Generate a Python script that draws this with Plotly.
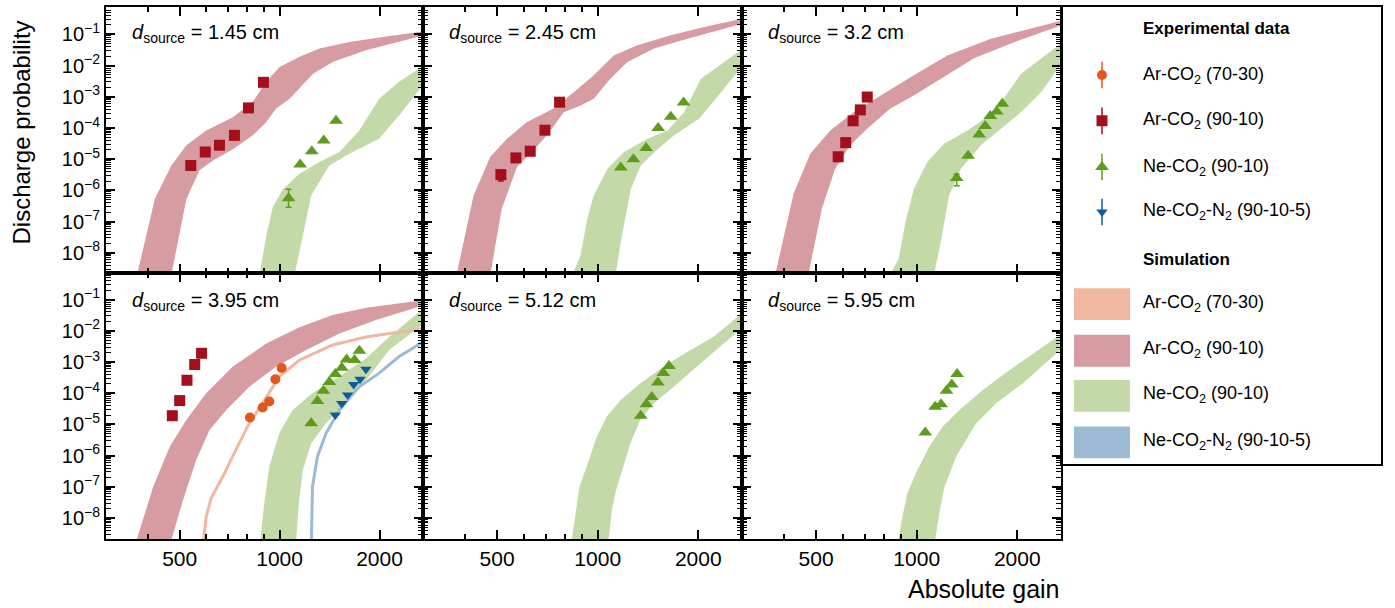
import plotly.graph_objects as go

# ---------------- data ----------------
panel_labels = ["1.45", "2.45", "3.2", "3.95", "5.12", "5.95"]

# Panel 1 : d = 1.45 cm
p1_ar90_a_gain = [372, 421, 472, 524, 601, 723, 830, 912, 1000, 1148, 1318, 1622, 2042, 2720]
p1_ar90_a_prob = [2e-9, 5.4e-7, 6.3e-6, 2.8e-5, 8.3e-5, 2.2e-4, 6.8e-4, 3.0e-3, 9.0e-3, 1.9e-2, 3.5e-2, 5.7e-2, 8.2e-2, 0.125]
p1_ar90_b_gain = [472, 524, 574, 630, 723, 830, 912, 976, 1072, 1261, 1445, 1820, 2720]
p1_ar90_b_prob = [2e-9, 5.4e-7, 4.4e-6, 9.1e-6, 2.1e-5, 5.8e-5, 1.55e-4, 4.2e-4, 8.7e-4, 5.5e-3, 1.3e-2, 3.1e-2, 9.3e-2]
p1_ne_a_gain = [870, 912, 954, 1022, 1148, 1318, 1514, 1738, 1995, 2290, 2720]
p1_ne_a_prob = [2e-9, 3.6e-8, 2.9e-7, 1.1e-6, 3.4e-6, 8.1e-6, 1.7e-5, 8.3e-5, 8.7e-4, 3.0e-3, 1.0e-2]
p1_ne_b_gain = [1109, 1175, 1245, 1318, 1413, 1622, 1995, 2290, 2720]
p1_ne_b_prob = [2e-9, 3.6e-8, 6.9e-7, 1.9e-6, 6.3e-6, 1.5e-5, 4.5e-5, 2.5e-4, 2.6e-3]
p1_ar90_gain = [540, 597, 659, 731, 806, 894]
p1_ar90_prob = [6.3e-6, 1.7e-5, 2.8e-5, 5.8e-5, 4.4e-4, 2.9e-3]
p1_ne_gain = [1064, 1153, 1250, 1358, 1479]
p1_ne_prob = [5.6e-7, 6.8e-6, 1.8e-5, 4.0e-5, 1.7e-4]
p1_ne_err_up = [5.4e-7, 0, 0, 0, 0]
p1_ne_err_dn = [2.7e-7, 0, 0, 0, 0]

# Panel 2 : d = 2.45 cm
p2_ar90_a_gain = [378, 425, 477, 535, 614, 738, 848, 973, 1117, 1314, 1655, 2084, 2720]
p2_ar90_a_prob = [2e-9, 6.9e-7, 1.2e-5, 4.5e-5, 1.55e-4, 4.2e-4, 1.4e-3, 4.9e-3, 2.1e-2, 4.5e-2, 9.3e-2, 0.17, 0.32]
p2_ar90_b_gain = [477, 516, 573, 628, 705, 791, 887, 973, 1091, 1227, 1475, 1857, 2720]
p2_ar90_b_prob = [2e-9, 2.6e-7, 5.6e-6, 1.5e-5, 5.8e-5, 3.2e-4, 5.2e-4, 8.7e-4, 3.8e-3, 1.3e-2, 3.5e-2, 7.2e-2, 0.22]
p2_ne_a_gain = [840, 888, 930, 973, 1069, 1199, 1409, 1618, 1815, 2037, 2720]
p2_ne_a_prob = [2e-9, 8.3e-9, 1.2e-7, 6.9e-7, 4.9e-6, 1.7e-5, 4.5e-5, 8.3e-5, 3.2e-4, 3.8e-3, 3.5e-2]
p2_ne_b_gain = [1132, 1172, 1256, 1346, 1510, 1694, 2015, 2340, 2720]
p2_ne_b_prob = [2e-9, 2.2e-8, 1.1e-6, 6.3e-6, 2.1e-5, 5.8e-5, 2.0e-4, 1.4e-3, 1.0e-2]
p2_ar90_gain = [513, 569, 628, 695, 769]
p2_ar90_prob = [3.2e-6, 1.1e-5, 1.8e-5, 8.5e-5, 6.7e-4]
p2_ar90_err_up = [1.2e-6, 0, 0, 0, 0]
p2_ar90_err_dn = [1.2e-6, 0, 0, 0, 0]
p2_ne_gain = [1172, 1279, 1396, 1517, 1655, 1808]
p2_ne_prob = [5.4e-6, 1.0e-5, 2.3e-5, 1.0e-4, 2.3e-4, 6.5e-4]

# Panel 3 : d = 3.2 cm
p3_ar90_a_gain = [377, 428, 480, 551, 647, 778, 980, 1235, 1667, 2099, 2735]
p3_ar90_a_prob = [2e-9, 7.8e-7, 1.5e-5, 8.3e-5, 3.2e-4, 1.1e-3, 4.9e-3, 2.1e-2, 7.2e-2, 0.135, 0.28]
p3_ar90_b_gain = [474, 520, 570, 632, 709, 834, 980, 1180, 1485, 1958, 2735]
p3_ar90_b_prob = [2e-9, 2.6e-7, 4.9e-6, 2.8e-5, 9.3e-5, 4.2e-4, 1.1e-3, 3.8e-3, 1.7e-2, 5.6e-2, 0.2]
p3_ne_a_gain = [834, 883, 925, 980, 1076, 1208, 1419, 1706, 2052, 2735]
p3_ne_a_prob = [2e-9, 6.5e-9, 9.5e-8, 1.1e-6, 8.1e-6, 3.1e-5, 8.3e-5, 3.2e-4, 5.5e-3, 5.6e-2]
p3_ne_b_gain = [1127, 1180, 1250, 1356, 1557, 1786, 2052, 2356, 2735]
p3_ne_b_prob = [2e-9, 2.2e-8, 6.9e-7, 4.9e-6, 2.8e-5, 9.3e-5, 3.2e-4, 1.4e-3, 1.3e-2]
p3_ar90_gain = [582, 613, 645, 678, 711]
p3_ar90_prob = [1.2e-5, 3.4e-5, 1.7e-4, 3.8e-4, 9.8e-4]
p3_ar90_err_up = [2.0e-6, 0, 0, 0, 0]
p3_ar90_err_dn = [3.5e-6, 0, 0, 0, 0]
p3_ne_gain = [1317, 1425, 1538, 1603, 1660, 1735, 1804]
p3_ne_prob = [2.5e-6, 1.3e-5, 6.2e-5, 1.15e-4, 2.4e-4, 3.4e-4, 6.0e-4]
p3_ne_err_up = [0.8e-6, 0, 0, 0, 0, 0, 0]
p3_ne_err_dn = [1.1e-6, 0, 0, 0, 0, 0, 0]

# Panel 4 : d = 3.95 cm
p4_ar90_a_gain = [371, 416, 467, 524, 601, 723, 912, 1148, 1445, 1820, 2720]
p4_ar90_a_prob = [2e-9, 1.0e-7, 1.95e-6, 1.4e-5, 1.0e-4, 7.1e-4, 3.9e-3, 1.3e-2, 3.2e-2, 5.5e-2, 9.6e-2]
p4_ar90_b_gain = [472, 512, 561, 615, 691, 811, 977, 1202, 1514, 1950, 2720]
p4_ar90_b_prob = [2e-9, 3.9e-8, 7.4e-7, 6.6e-6, 2.9e-5, 1.6e-4, 7.1e-4, 2.4e-3, 8.1e-3, 2.2e-2, 6.6e-2]
p4_ar70_sim_gain = [590, 601, 622, 674, 739, 811, 889, 998, 1148, 1445, 1820, 2720]
p4_ar70_sim_prob = [2e-9, 1.1e-8, 4.4e-8, 2.1e-7, 1.55e-6, 1.1e-5, 4.8e-5, 3.4e-4, 1.15e-3, 3.5e-3, 6.3e-3, 1.2e-2]
p4_ne_a_gain = [875, 899, 931, 998, 1094, 1256, 1514, 1820, 2138, 2720]
p4_ne_a_prob = [2e-9, 3.0e-8, 4.5e-7, 5.2e-6, 2.9e-5, 1.0e-4, 3.4e-4, 1.3e-3, 6.3e-3, 5.3e-2]
p4_ne_b_gain = [1122, 1143, 1175, 1245, 1380, 1585, 1820, 2138, 2720]
p4_ne_b_prob = [2e-9, 3.0e-8, 3.5e-7, 2.5e-6, 1.1e-5, 4.8e-5, 2.6e-4, 2.4e-3, 1.7e-2]
p4_nen2_sim_gain = [1247, 1256, 1300, 1380, 1514, 1738, 1995, 2291, 2720]
p4_nen2_sim_prob = [2e-9, 1.0e-7, 9.3e-7, 5.2e-6, 2.9e-5, 1.6e-4, 4.4e-4, 1.5e-3, 4.5e-3]
p4_ar90_gain = [475, 500, 526, 555, 582]
p4_ar90_prob = [1.9e-5, 5.8e-5, 2.6e-4, 8.3e-4, 1.9e-3]
p4_ar70_gain = [814, 889, 931, 971, 1014]
p4_ar70_prob = [1.66e-5, 3.5e-5, 5.4e-5, 2.8e-4, 6.4e-4]
p4_ne_gain = [1245, 1300, 1355, 1412, 1472, 1539, 1592, 1682, 1739]
p4_ne_prob = [1.1e-5, 5.6e-5, 1.2e-4, 2.3e-4, 4.1e-4, 6.5e-4, 1.2e-3, 1.15e-3, 2.3e-3]
p4_nen2_gain = [1472, 1539, 1603, 1672, 1746, 1820]
p4_nen2_prob = [2.0e-5, 4.7e-5, 8.7e-5, 1.9e-4, 2.8e-4, 5.9e-4]

# Panel 5 : d = 5.12 cm
p5_ne_a_gain = [836, 856, 882, 927, 994, 1065, 1169, 1342, 1577, 1897, 2229, 2720]
p5_ne_a_prob = [2e-9, 1.1e-8, 1.0e-7, 4.5e-7, 4.1e-6, 1.8e-5, 6.0e-5, 2.1e-4, 7.1e-4, 2.4e-3, 6.5e-3, 3.8e-2]
p5_ne_b_gain = [1078, 1103, 1136, 1196, 1253, 1342, 1472, 1690, 2032, 2720]
p5_ne_b_prob = [2e-9, 1.9e-8, 8.1e-8, 4.5e-7, 2.5e-6, 1.4e-5, 4.8e-5, 1.6e-4, 9.1e-4, 1.3e-2]
p5_ne_gain = [1345, 1399, 1452, 1514, 1571, 1634]
p5_ne_prob = [1.9e-5, 4.4e-5, 7.6e-5, 2.2e-4, 4.4e-4, 7.4e-4]

# Panel 6 : d = 5.95 cm
p6_ne_a_gain = [882, 906, 938, 994, 1091, 1196, 1342, 1577, 1897, 2229, 2720]
p6_ne_a_prob = [2e-9, 1.1e-8, 6.3e-8, 2.75e-7, 1.95e-6, 8.5e-6, 2.9e-5, 1.26e-4, 5.5e-4, 1.86e-3, 8.1e-3]
p6_ne_b_gain = [1136, 1169, 1211, 1313, 1507, 1730, 2080, 2720]
p6_ne_b_prob = [2e-9, 1.45e-8, 1.0e-7, 9.3e-7, 1.1e-5, 4.8e-5, 2.1e-4, 2.7e-3]
p6_ne_gain = [1061, 1136, 1183, 1228, 1274, 1321]
p6_ne_prob = [5.5e-6, 3.7e-5, 4.4e-5, 1.2e-4, 1.9e-4, 4.1e-4]

# tick labels
x_tickvals = [500, 1000, 2000]
x_ticktext = ["500", "1000", "2000"]
x_minor = [300, 400, 600, 700, 800, 900, 3000]
y_exponents = [-8, -7, -6, -5, -4, -3, -2, -1]

legend_exp_names = ["Ar-CO<sub>2</sub> (70-30)", "Ar-CO<sub>2</sub> (90-10)",
                    "Ne-CO<sub>2</sub> (90-10)", "Ne-CO<sub>2</sub>-N<sub>2</sub> (90-10-5)"]
legend_sim_names = legend_exp_names

# ---------------- style ----------------
FONT = "Liberation Sans, Arial, sans-serif"
C_AR70 = "#e3561c"
C_AR90 = "#a30f1a"
C_NE = "#5e9c1e"
C_NEN2 = "#0e5c9e"
F_AR70 = "#f0b8a0"
F_AR90 = "#d69ca2"
F_NE = "#c4d9a8"
F_NEN2 = "#9cbad3"
S_SQ, S_CI, S_TU, S_TD = 11, 10, 12, 10

fig = go.Figure()


def axn(i):
    return ("x" if i == 1 else f"x{i}"), ("y" if i == 1 else f"y{i}")


def band(i, ga, pa, gb, pb, color):
    xa, ya = axn(i)
    fig.add_trace(go.Scatter(x=list(ga) + list(gb)[::-1], y=list(pa) + list(pb)[::-1],
                             mode="lines", fill="toself", fillcolor=color,
                             line=dict(width=0, color=color), hoverinfo="skip",
                             showlegend=False, xaxis=xa, yaxis=ya))


def sim_line(i, g, p, color):
    xa, ya = axn(i)
    fig.add_trace(go.Scatter(x=g, y=p, mode="lines", line=dict(width=3, color=color),
                             hoverinfo="skip", showlegend=False, xaxis=xa, yaxis=ya))


def points(i, g, p, symbol, color, size, eu=None, ed=None):
    xa, ya = axn(i)
    err = None
    if eu is not None:
        err = dict(type="data", symmetric=False, array=eu, arrayminus=ed,
                   color=color, thickness=1.5, width=3)
    fig.add_trace(go.Scatter(x=g, y=p, mode="markers",
                             marker=dict(symbol=symbol, color=color, size=size, line=dict(width=0)),
                             error_y=err, showlegend=False, xaxis=xa, yaxis=ya))


SQ, CI, TU, TD = "square", "circle", "triangle-up", "triangle-down"

# panel 1
band(1, p1_ar90_a_gain, p1_ar90_a_prob, p1_ar90_b_gain, p1_ar90_b_prob, F_AR90)
band(1, p1_ne_a_gain, p1_ne_a_prob, p1_ne_b_gain, p1_ne_b_prob, F_NE)
points(1, p1_ar90_gain, p1_ar90_prob, SQ, C_AR90, S_SQ)
points(1, p1_ne_gain, p1_ne_prob, TU, C_NE, S_TU, p1_ne_err_up, p1_ne_err_dn)
# panel 2
band(2, p2_ar90_a_gain, p2_ar90_a_prob, p2_ar90_b_gain, p2_ar90_b_prob, F_AR90)
band(2, p2_ne_a_gain, p2_ne_a_prob, p2_ne_b_gain, p2_ne_b_prob, F_NE)
points(2, p2_ar90_gain, p2_ar90_prob, SQ, C_AR90, S_SQ, p2_ar90_err_up, p2_ar90_err_dn)
points(2, p2_ne_gain, p2_ne_prob, TU, C_NE, S_TU)
# panel 3
band(3, p3_ar90_a_gain, p3_ar90_a_prob, p3_ar90_b_gain, p3_ar90_b_prob, F_AR90)
band(3, p3_ne_a_gain, p3_ne_a_prob, p3_ne_b_gain, p3_ne_b_prob, F_NE)
points(3, p3_ar90_gain, p3_ar90_prob, SQ, C_AR90, S_SQ, p3_ar90_err_up, p3_ar90_err_dn)
points(3, p3_ne_gain, p3_ne_prob, TU, C_NE, S_TU, p3_ne_err_up, p3_ne_err_dn)
# panel 4
band(4, p4_ar90_a_gain, p4_ar90_a_prob, p4_ar90_b_gain, p4_ar90_b_prob, F_AR90)
band(4, p4_ne_a_gain, p4_ne_a_prob, p4_ne_b_gain, p4_ne_b_prob, F_NE)
sim_line(4, p4_ar70_sim_gain, p4_ar70_sim_prob, F_AR70)
sim_line(4, p4_nen2_sim_gain, p4_nen2_sim_prob, F_NEN2)
points(4, p4_ar90_gain, p4_ar90_prob, SQ, C_AR90, S_SQ)
points(4, p4_ar70_gain, p4_ar70_prob, CI, C_AR70, S_CI)
points(4, p4_ne_gain, p4_ne_prob, TU, C_NE, S_TU)
points(4, p4_nen2_gain, p4_nen2_prob, TD, C_NEN2, S_TD)
# panel 5
band(5, p5_ne_a_gain, p5_ne_a_prob, p5_ne_b_gain, p5_ne_b_prob, F_NE)
points(5, p5_ne_gain, p5_ne_prob, TU, C_NE, S_TU)
# panel 6
band(6, p6_ne_a_gain, p6_ne_a_prob, p6_ne_b_gain, p6_ne_b_prob, F_NE)
points(6, p6_ne_gain, p6_ne_prob, TU, C_NE, S_TU)

# ---------------- layout ----------------
W, H = 1395, 608
ML, MR, MT, MB = 106, 14, 5, 69
PW = W - ML - MR
PH = H - MT - MB


def px_x(p):
    return (p - ML) / PW


def px_y(p):
    return (H - MB - p) / PH


col_edges = [px_x(106), px_x(423), px_x(742), px_x(1061)]
row_domains = [[0.5, 1.0], [0.0, 0.5]]
y_ranges = [[-8.645, -0.125], [-8.67, -0.15]]
y_minor = [k * 10.0 ** e for e in range(-10, 1) for k in range(2, 10)]
y_ticktext = [f"10<sup>\u2212{abs(e)}</sup>" for e in y_exponents]
y_tickvals = [10.0 ** e for e in y_exponents]

layout = dict(width=W, height=H, autosize=False, margin=dict(l=ML, r=MR, t=MT, b=MB),
              paper_bgcolor="white", plot_bgcolor="white",
              font=dict(family=FONT, color="black"), showlegend=False)

annotations = []
for i in range(1, 7):
    r, c = (i - 1) // 3, (i - 1) % 3
    xk = "xaxis" if i == 1 else f"xaxis{i}"
    yk = "yaxis" if i == 1 else f"yaxis{i}"
    xa, ya = axn(i)
    layout[xk] = dict(type="log", domain=[col_edges[c], col_edges[c + 1]],
                      range=[2.477, 3.432], anchor=ya,
                      tickmode="array", tickvals=x_tickvals, ticktext=x_ticktext,
                      showticklabels=(r == 1), tickfont=dict(size=21, family=FONT),
                      ticks="inside", ticklen=9, tickwidth=1.5, tickcolor="black",
                      minor=dict(tickmode="array", tickvals=x_minor, ticks="inside",
                                 ticklen=5, tickwidth=1.5, tickcolor="black", showgrid=False),
                      showline=True, linewidth=2, linecolor="black", mirror="ticks",
                      showgrid=False, zeroline=False, fixedrange=True)
    layout[yk] = dict(type="log", domain=row_domains[r], range=y_ranges[r], anchor=xa,
                      tickmode="array", tickvals=y_tickvals, ticktext=y_ticktext,
                      showticklabels=(c == 0), tickfont=dict(size=20, family=FONT),
                      ticks="inside", ticklen=9, tickwidth=1.5, tickcolor="black",
                      minor=dict(tickmode="array", tickvals=y_minor, ticks="inside",
                                 ticklen=5, tickwidth=1, tickcolor="black", showgrid=False),
                      showline=True, linewidth=2, linecolor="black", mirror="ticks",
                      showgrid=False, zeroline=False, fixedrange=True)
    annotations.append(dict(text=f"<i>d</i><sub>source</sub> = {panel_labels[i - 1]} cm",
                            xref=f"{xa} domain", yref=f"{ya} domain",
                            x=24 / 317, y=(0.9 if r == 0 else 0.894),
                            xanchor="left", yanchor="middle", showarrow=False,
                            font=dict(size=20, family=FONT, color="black")))

# axis titles
annotations.append(dict(text="Discharge probability", xref="paper", yref="paper",
                        x=px_x(22), y=px_y(131), textangle=-90, xanchor="center",
                        yanchor="middle", showarrow=False, font=dict(size=24, family=FONT)))
annotations.append(dict(text="Absolute gain", xref="paper", yref="paper",
                        x=px_x(1062), y=px_y(589), xanchor="right", yanchor="middle",
                        showarrow=False, font=dict(size=25, family=FONT)))

# ---------------- legend panel ----------------
layout["xaxis7"] = dict(domain=[px_x(1062), px_x(1381)], range=[0, 1], anchor="y7",
                        showline=True, linewidth=1.5, linecolor="black", mirror=True,
                        ticks="", showticklabels=False, showgrid=False, zeroline=False,
                        fixedrange=True)
layout["yaxis7"] = dict(domain=[px_y(464), px_y(5)], range=[0, 1], anchor="x7",
                        showline=True, linewidth=1.5, linecolor="black", mirror=True,
                        ticks="", showticklabels=False, showgrid=False, zeroline=False,
                        fixedrange=True)


def ly(p):  # legend pixel -> legend axis
    return (464 - p) / 459


def lx(p):
    return (p - 1062) / 319


exp_syms = [CI, SQ, TU, TD]
exp_cols = [C_AR70, C_AR90, C_NE, C_NEN2]
exp_sizes = [S_CI, S_SQ, S_TU, S_TD]
exp_rows = [73.3, 119.3, 165.7, 210.7]
for s, col, sz, py in zip(exp_syms, exp_cols, exp_sizes, exp_rows):
    fig.add_trace(go.Scatter(x=[lx(1102)], y=[ly(py)], mode="markers",
                             marker=dict(symbol=s, color=col, size=sz, line=dict(width=0)),
                             error_y=dict(type="constant", value=0.029, color=col,
                                          thickness=1.5, width=0),
                             showlegend=False, hoverinfo="skip", xaxis="x7", yaxis="y7"))
for name, py in zip(legend_exp_names, exp_rows):
    annotations.append(dict(text=name, xref="x7", yref="y7", x=lx(1141), y=ly(py),
                            xanchor="left", yanchor="middle", showarrow=False,
                            font=dict(size=18, family=FONT)))

annotations.append(dict(text="<b>Experimental data</b>", xref="x7", yref="y7", x=lx(1141),
                        y=ly(27), xanchor="left", yanchor="middle", showarrow=False,
                        font=dict(size=17, family=FONT)))
annotations.append(dict(text="<b>Simulation</b>", xref="x7", yref="y7", x=lx(1141),
                        y=ly(258.7), xanchor="left", yanchor="middle", showarrow=False,
                        font=dict(size=17, family=FONT)))

shapes = []
sim_cols = [F_AR70, F_AR90, F_NE, F_NEN2]
sim_box_tops = [287.3, 334, 379.3, 426]
for name, col, top in zip(legend_sim_names, sim_cols, sim_box_tops):
    shapes.append(dict(type="rect", xref="x7", yref="y7", x0=lx(1074), x1=lx(1130),
                       y0=ly(top + 32), y1=ly(top), fillcolor=col, line=dict(width=0),
                       layer="above"))
    annotations.append(dict(text=name, xref="x7", yref="y7", x=lx(1141), y=ly(top + 15),
                            xanchor="left", yanchor="middle", showarrow=False,
                            font=dict(size=18, family=FONT)))

layout["annotations"] = annotations
layout["shapes"] = shapes
fig.update_layout(**layout)
fig.write_html("out.html", config={"displayModeBar": False},
               post_script="document.body.style.margin='0';"
                           "document.body.style.overflow='hidden';")
